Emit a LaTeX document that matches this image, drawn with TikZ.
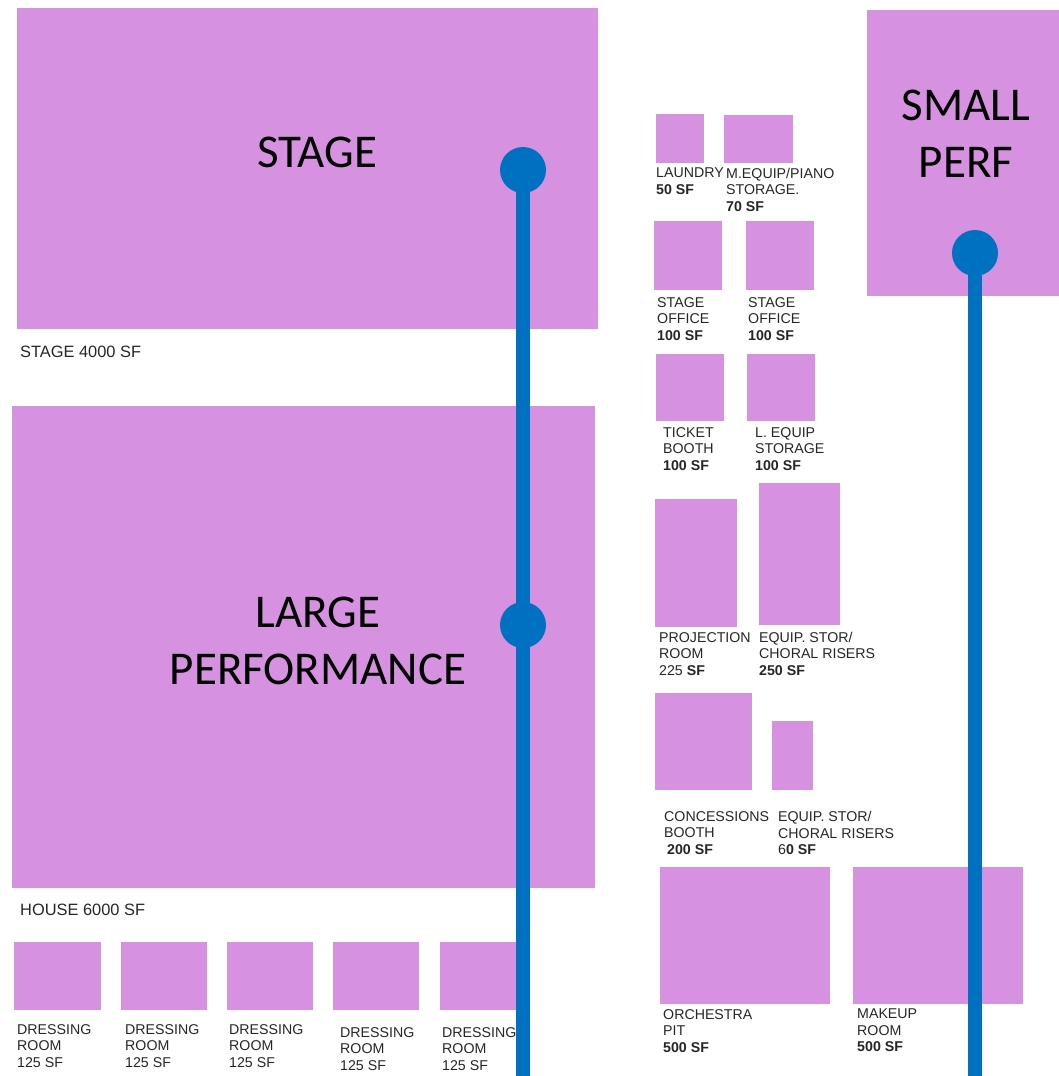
\documentclass[tikz,border=0pt]{standalone}
\usepackage{fontspec}
\setmainfont{Carlito}
\newfontfamily\labfont{Liberation Sans}
\definecolor{roompink}{RGB}{214,146,224}
\definecolor{linkblue}{RGB}{0,112,192}
\begin{document}
\begin{tikzpicture}[x=1pt,y=-1pt,
  room/.style={fill=roompink,draw=none,inner sep=0,anchor=north west},
  bigtext/.style={font=\fontsize{47}{57}\selectfont,align=center,text=black},
  lab/.style={font=\labfont\fontsize{14.2}{16.5}\selectfont,align=left,anchor=north west,inner sep=0,text=black!85},
  biglab/.style={lab,font=\labfont\fontsize{16.4}{18}\selectfont},
  dot/.style={circle,fill=linkblue,minimum size=46pt,inner sep=0},
  link/.style={draw=linkblue,line width=14pt}]
\useasboundingbox (0,0) rectangle (1059,1076);
% large rooms
\node[room,minimum width=581pt,minimum height=321pt] (stage) at (17,8) {};
\node[bigtext] (stageT) at (317,152) {STAGE};
\node[biglab] (stageL) at (20,346) {STAGE 4000 SF};
\node[room,minimum width=583pt,minimum height=482pt] (house) at (12,406) {};
\node[bigtext] (houseT) at (318,641) {LARGE\\PERFORMANCE};
\node[biglab] (houseL) at (20,904) {HOUSE 6000 SF};
\node[room,minimum width=192pt,minimum height=286pt] (small) at (867,10) {};
\node[bigtext] (smallT) at (966,134) {SMALL\\PERF};
% dressing rooms
\node[room,minimum width=87pt,minimum height=68pt] (dr1) at (14,942) {};
\node[room,minimum width=86pt,minimum height=68pt] (dr2) at (121,942) {};
\node[room,minimum width=86pt,minimum height=68pt] (dr3) at (227,942) {};
\node[room,minimum width=86pt,minimum height=68pt] (dr4) at (333,942) {};
\node[room,minimum width=86pt,minimum height=68pt] (dr5) at (440,942) {};
\node[lab] (dr1L) at (17,1024) {DRESSING\\ROOM\\125 SF};
\node[lab] (dr2L) at (125,1024) {DRESSING\\ROOM\\125 SF};
\node[lab] (dr3L) at (229,1024) {DRESSING\\ROOM\\125 SF};
\node[lab] (dr4L) at (340,1027) {DRESSING\\ROOM\\125 SF};
\node[lab] (dr5L) at (442,1027) {DRESSING\\ROOM\\125 SF};
% right column
\node[room,minimum width=48pt,minimum height=49pt] (laundry) at (656,114) {};
\node[lab] (laundryL) at (656,168) {LAUNDRY\\\textbf{50 SF}};
\node[room,minimum width=69pt,minimum height=48pt] (mequip) at (724,115) {};
\node[lab] (mequipL) at (726,168) {M.EQUIP/PIANO\\STORAGE.\\\textbf{70 SF}};
\node[room,minimum width=68pt,minimum height=69pt] (so1) at (654,221) {};
\node[lab] (so1L) at (657,297) {STAGE\\OFFICE\\\textbf{100 SF}};
\node[room,minimum width=68pt,minimum height=69pt] (so2) at (746,221) {};
\node[lab] (so2L) at (748,297) {STAGE\\OFFICE\\\textbf{100 SF}};
\node[room,minimum width=68pt,minimum height=67pt] (ticket) at (656,354) {};
\node[lab] (ticketL) at (663,427) {TICKET\\BOOTH\\\textbf{100 SF}};
\node[room,minimum width=68pt,minimum height=67pt] (lequip) at (747,354) {};
\node[lab] (lequipL) at (755,427) {L. EQUIP\\STORAGE\\\textbf{100 SF}};
\node[room,minimum width=82pt,minimum height=128pt] (proj) at (655,499) {};
\node[lab] (projL) at (659,632) {PROJECTION\\ROOM\\225 \textbf{SF}};
\node[room,minimum width=81pt,minimum height=142pt] (eq250) at (759,483) {};
\node[lab] (eq250L) at (759,632) {EQUIP. STOR/\\CHORAL RISERS\\\textbf{250 SF}};
\node[room,minimum width=97pt,minimum height=97pt] (conc) at (655,693) {};
\node[lab] (concL) at (664,811) {CONCESSIONS\\BOOTH\\\hspace*{3pt}\textbf{200 SF}};
\node[room,minimum width=41pt,minimum height=69pt] (eq60) at (772,721) {};
\node[lab] (eq60L) at (778,811) {EQUIP. STOR/\\CHORAL RISERS\\6\textbf{0 SF}};
\node[room,minimum width=170pt,minimum height=137pt] (orch) at (660,867) {};
\node[lab] (orchL) at (663,1009) {ORCHESTRA\\PIT\\\textbf{500 SF}};
\node[room,minimum width=170pt,minimum height=137pt] (makeup) at (853,867) {};
\node[lab] (makeupL) at (857,1009) {MAKEUP\\ROOM\\\textbf{500 SF}};
% blue links
\node[dot] (d1) at (523,170) {};
\node[dot] (d2) at (523,625) {};
\coordinate (e1) at (523,1080);
\node[dot] (d3) at (975,253) {};
\coordinate (e2) at (975,1080);
\draw[link] (d1.center) -- (d2.center) -- (e1);
\draw[link] (d3.center) -- (e2);
\end{tikzpicture}
\end{document}
